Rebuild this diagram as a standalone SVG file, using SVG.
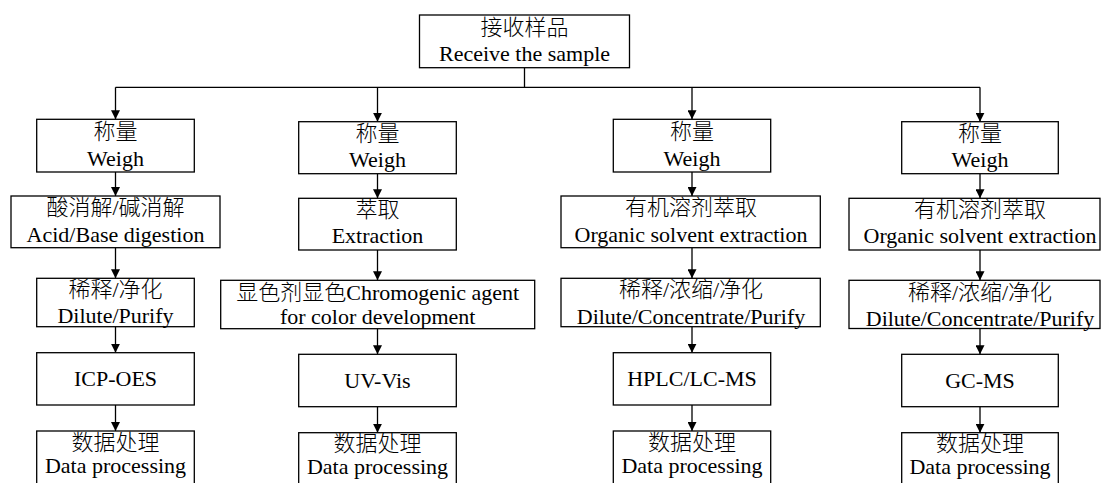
<svg xmlns="http://www.w3.org/2000/svg" width="1101" height="483" viewBox="0 0 1101 483">
<style>
.b{fill:#fff;stroke:#000;stroke-width:1.3}
.t{font-family:"Liberation Serif","Noto Sans CJK SC",serif;font-size:22px;fill:#000;text-anchor:middle}
.k{font-weight:300}
.c{fill:none;stroke:#000;stroke-width:1.3}
.a{fill:none;stroke:#000;stroke-width:1.3;marker-end:url(#ah)}
</style>
<defs>
<marker id="ah" viewBox="0 0 10 10" refX="10" refY="5" markerWidth="9" markerHeight="9" markerUnits="userSpaceOnUse" orient="auto">
<path d="M0,0 L10,5 L0,10 z" fill="#000"/>
</marker>
</defs>
<rect width="1101" height="483" fill="#fff"/>
<g id="connectors">
<path class="c" d="M524.5,67.7 V87.3 M115.5,87.3 H980"/>
<path class="a" d="M115.5,87.3 V119.3"/>
<path class="a" d="M377.5,87.3 V121.7"/>
<path class="a" d="M692,87.3 V119.3"/>
<path class="a" d="M980,87.3 V121.7"/>
<path class="a" d="M115.5,172 V196"/>
<path class="a" d="M115.5,247.7 V278.3"/>
<path class="a" d="M115.5,326.7 V352.7"/>
<path class="a" d="M115.5,405 V431"/>
<path class="a" d="M377.5,173.7 V198.3"/>
<path class="a" d="M377.5,250 V280.3"/>
<path class="a" d="M377.5,328.7 V354.3"/>
<path class="a" d="M377.5,406.7 V432.7"/>
<path class="a" d="M692,172 V196"/>
<path class="a" d="M692,247.7 V278.3"/>
<path class="a" d="M692,326.7 V352.7"/>
<path class="a" d="M692,405 V431"/>
<path class="a" d="M980,173.7 V198.3"/>
<path class="a" d="M980,250 V280.3"/>
<path class="a" d="M980,328.5 V354.3"/>
<path class="a" d="M980,406.7 V432.7"/>
</g>
<g id="receive">
<rect class="b" x="419.5" y="15" width="210" height="52.7"/>
<text class="t k" x="524.5" y="35">接收样品</text>
<text class="t" x="524.5" y="61">Receive the sample</text>
</g>
<g id="weigh1">
<rect class="b" x="36.7" y="119.3" width="157.6" height="52.7"/>
<text class="t k" x="115.5" y="138.7">称量</text>
<text class="t" x="115.5" y="165.7">Weigh</text>
</g>
<g id="digest1">
<rect class="b" x="11" y="196" width="209" height="51.7"/>
<text class="t k" x="115.5" y="215.3">酸消解/碱消解</text>
<text class="t" x="115.5" y="241.5">Acid/Base digestion</text>
</g>
<g id="dilute1">
<rect class="b" x="36.7" y="278.3" width="157.6" height="48.4"/>
<text class="t k" x="115.5" y="296.5">稀释/净化</text>
<text class="t" x="115.5" y="323">Dilute/Purify</text>
</g>
<g id="icp">
<rect class="b" x="36.7" y="352.7" width="157.6" height="52.3"/>
<text class="t" x="115.5" y="386">ICP-OES</text>
</g>
<g id="data1">
<rect class="b" x="36.7" y="431" width="157.6" height="60"/>
<text class="t k" x="115.5" y="450">数据处理</text>
<text class="t" x="115.5" y="473">Data processing</text>
</g>
<g id="weigh2">
<rect class="b" x="298.7" y="121.7" width="157.6" height="52"/>
<text class="t k" x="377.5" y="140.5">称量</text>
<text class="t" x="377.5" y="166.7">Weigh</text>
</g>
<g id="extract2">
<rect class="b" x="298.7" y="198.3" width="157.6" height="51.7"/>
<text class="t k" x="377.5" y="217">萃取</text>
<text class="t" x="377.5" y="242.7">Extraction</text>
</g>
<g id="chromo2">
<rect class="b" x="220.7" y="280.3" width="314" height="48.4"/>
<text class="t" x="377.7" y="299.5"><tspan class="k">显色剂显色</tspan>Chromogenic agent</text>
<text class="t" x="377.7" y="324.3">for color development</text>
</g>
<g id="uvvis">
<rect class="b" x="298.7" y="354.3" width="157.6" height="52.4"/>
<text class="t" x="377.5" y="387.7">UV-Vis</text>
</g>
<g id="data2">
<rect class="b" x="298.7" y="432.7" width="157.6" height="60"/>
<text class="t k" x="377.5" y="451">数据处理</text>
<text class="t" x="377.5" y="474">Data processing</text>
</g>
<g id="weigh3">
<rect class="b" x="613.3" y="119.3" width="157.4" height="52.7"/>
<text class="t k" x="692" y="138.7">称量</text>
<text class="t" x="692" y="165.7">Weigh</text>
</g>
<g id="organic3">
<rect class="b" x="561" y="196" width="259.3" height="51.7"/>
<text class="t k" x="691" y="215.3">有机溶剂萃取</text>
<text class="t" x="691" y="241.5">Organic solvent extraction</text>
</g>
<g id="dilute3">
<rect class="b" x="561" y="278.3" width="259.3" height="48.4"/>
<text class="t k" x="691" y="296.5">稀释/浓缩/净化</text>
<text class="t" x="691" y="323.5">Dilute/Concentrate/Purify</text>
</g>
<g id="hplc">
<rect class="b" x="613.3" y="352.7" width="157.4" height="52.3"/>
<text class="t" x="692" y="386">HPLC/LC-MS</text>
</g>
<g id="data3">
<rect class="b" x="613.3" y="431" width="157.4" height="60"/>
<text class="t k" x="692" y="450">数据处理</text>
<text class="t" x="692" y="473">Data processing</text>
</g>
<g id="weigh4">
<rect class="b" x="901.7" y="121.7" width="156.6" height="52"/>
<text class="t k" x="980" y="140.5">称量</text>
<text class="t" x="980" y="166.7">Weigh</text>
</g>
<g id="organic4">
<rect class="b" x="849" y="198.3" width="251" height="51.7"/>
<text class="t k" x="980" y="217">有机溶剂萃取</text>
<text class="t" x="980" y="243">Organic solvent extraction</text>
</g>
<g id="dilute4">
<rect class="b" x="849" y="280.3" width="251" height="48.2"/>
<text class="t k" x="980" y="299.5">稀释/浓缩/净化</text>
<text class="t" x="980" y="325.5">Dilute/Concentrate/Purify</text>
</g>
<g id="gcms">
<rect class="b" x="901.7" y="354.3" width="156.6" height="52.4"/>
<text class="t" x="980" y="387.7">GC-MS</text>
</g>
<g id="data4">
<rect class="b" x="901.7" y="432.7" width="156.6" height="60"/>
<text class="t k" x="980" y="451">数据处理</text>
<text class="t" x="980" y="474">Data processing</text>
</g>
</svg>
